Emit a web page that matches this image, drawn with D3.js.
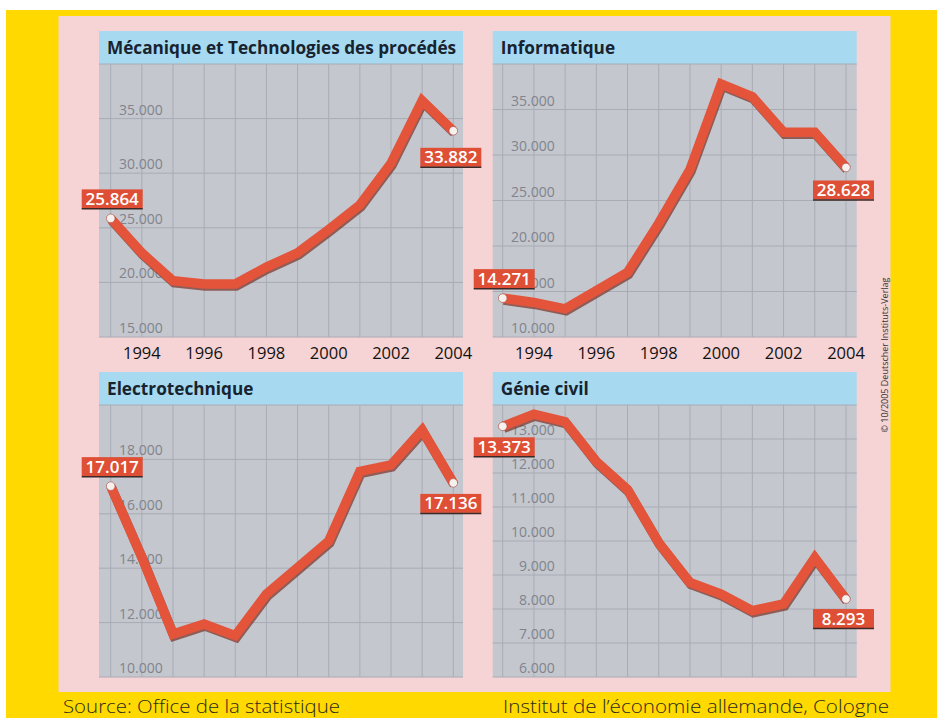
<!DOCTYPE html>
<html>
<head>
<meta charset="utf-8">
<script src="https://cdn.jsdelivr.net/npm/d3@7"></script>
<style>
  body { margin: 0; background: #fff; }
  svg { display: block; }
</style>
</head>
<body>
<div id="chart"></div>
<script>
// years shown in each panel
const years = [1993, 1994, 1995, 1996, 1997, 1998, 1999, 2000, 2001, 2002, 2003, 2004];
const yearLabels = [1994, 1996, 1998, 2000, 2002, 2004];

// series values (first and last are printed)
const mecaValues = [25864, 22700, 20150, 19850, 19850, 21400, 22700, 24850, 27100, 30900, 36650, 33882];
const infoValues = [14271, 13800, 13100, 15100, 17100, 22500, 28400, 37800, 36400, 32500, 32500, 28628];
const electroValues = [17017, 14400, 11580, 11950, 11520, 13050, 14020, 15000, 17560, 17800, 19080, 17136];
const genieValues = [13373, 13730, 13510, 12340, 11510, 9950, 8780, 8440, 7950, 8150, 9510, 8293];

// titles and y ticks
const titles = ["Mécanique et Technologies des procédés", "Informatique", "Electrotechnique", "Génie civil"];
const mecaTicks = [15000, 20000, 25000, 30000, 35000];
const infoTicks = [10000, 15000, 20000, 25000, 30000, 35000];
const electroTicks = [10000, 12000, 14000, 16000, 18000];
const genieTicks = [6000, 7000, 8000, 9000, 10000, 11000, 12000, 13000];

const sourceLeft = "Source: Office de la statistique";
const sourceRight = "Institut de l\u2019économie allemande, Cologne";
const copyright = "© 10/2005 Deutscher Instituts-Verlag";

const W = 937, H = 718;
const de = d3.formatLocale({decimal: ",", thousands: ".", grouping: [3], currency: ["", "€"]});
const fmt = de.format(",d");

const panels = [
  {title: titles[0], values: mecaValues, ticks: mecaTicks, domain: [15000, 40000], step: 5000,
   x0: 99, x1: 463, top: 31, plotTop: 64, bottom: 337, r0: 110.7, r1: 453.3, years: true,
   startPos: "above", endDy: 17},
  {title: titles[1], values: infoValues, ticks: infoTicks, domain: [10000, 40000], step: 5000,
   x0: 492.7, x1: 856.7, top: 31, plotTop: 64, bottom: 337, r0: 502.7, r1: 846, years: true,
   startPos: "above", endDy: 13},
  {title: titles[2], values: electroValues, ticks: electroTicks, domain: [10000, 20000], step: 2000,
   x0: 99, x1: 463, top: 372, plotTop: 405, bottom: 677, r0: 110.7, r1: 453.3, years: false,
   startPos: "above", endDy: 11},
  {title: titles[3], values: genieValues, ticks: genieTicks, domain: [6000, 14000], step: 1000,
   x0: 492.7, x1: 856.7, top: 372, plotTop: 405, bottom: 677, r0: 502.7, r1: 846, years: false,
   startPos: "below", endDy: 10}
];

const svg = d3.select("#chart").append("svg")
    .attr("width", W)
    .attr("height", H);

// yellow frame and pink paper
svg.append("rect").attr("x", 6).attr("y", 10).attr("width", W - 6).attr("height", H - 10).attr("fill", "#ffd900");
svg.append("rect").attr("x", 58.5).attr("y", 16).attr("width", 832).attr("height", 676).attr("fill", "#f6d3d4");

panels.forEach(p => {
  const g = svg.append("g");
  const x = d3.scaleLinear().domain([years[0], years[years.length - 1]]).range([p.r0, p.r1]);
  const y = d3.scaleLinear().domain(p.domain).range([p.bottom, p.plotTop]);

  // title bar
  g.append("rect")
      .attr("x", p.x0).attr("y", p.top)
      .attr("width", p.x1 - p.x0).attr("height", p.plotTop - p.top)
      .attr("fill", "#a7daf1");
  g.append("text")
      .attr("x", p.x0 + 8).attr("y", p.plotTop - 10)
      .attr("font-family", "'Open Sans', sans-serif")
      .attr("font-weight", 700)
      .attr("font-size", 17.2)
      .attr("fill", "#17232f")
      .text(p.title);

  // plot background
  g.append("rect")
      .attr("x", p.x0).attr("y", p.plotTop)
      .attr("width", p.x1 - p.x0).attr("height", p.bottom - p.plotTop)
      .attr("fill", "#c5c7ce");

  // grid
  const gridVals = d3.range(p.domain[0], p.domain[1] + 1, p.step);
  g.append("g").selectAll("line").data(gridVals).join("line")
      .attr("x1", p.x0).attr("x2", p.x1)
      .attr("y1", d => y(d)).attr("y2", d => y(d))
      .attr("stroke", "#a8acb5").attr("stroke-width", 1);
  g.append("g").selectAll("line").data(years).join("line")
      .attr("x1", d => x(d)).attr("x2", d => x(d))
      .attr("y1", p.plotTop).attr("y2", p.bottom)
      .attr("stroke", "#a8acb5").attr("stroke-width", 1);

  // y tick labels
  g.append("g").selectAll("text").data(p.ticks).join("text")
      .attr("x", p.r0 + 52).attr("y", d => y(d) - 4)
      .attr("text-anchor", "end")
      .attr("font-family", "'Open Sans', sans-serif")
      .attr("font-size", 14)
      .attr("fill", "#7f848d")
      .text(d => fmt(d));

  // x labels (top row only)
  if (p.years) {
    g.append("g").selectAll("text").data(yearLabels).join("text")
        .attr("x", d => x(d)).attr("y", p.bottom + 22)
        .attr("text-anchor", "middle")
        .attr("font-family", "'Open Sans', sans-serif")
        .attr("font-size", 16.5)
        .attr("fill", "#111")
        .text(d => d);
  }

  const pts = years.map((yr, i) => [yr, p.values[i]]);
  const line = d3.line().x(d => x(d[0])).y(d => y(d[1]));

  // shadow + line
  g.append("path")
      .datum(pts)
      .attr("d", line)
      .attr("transform", "translate(1,2)")
      .attr("fill", "none")
      .attr("stroke", "#7b3a30")
      .attr("stroke-opacity", 0.75)
      .attr("stroke-width", 9.5)
      .attr("stroke-linejoin", "miter");
  g.append("path")
      .datum(pts)
      .attr("d", line)
      .attr("fill", "none")
      .attr("stroke", "#e3543a")
      .attr("stroke-width", 9.5)
      .attr("stroke-linejoin", "miter");

  // end points + value boxes
  const ends = [pts[0], pts[pts.length - 1]];
  ends.forEach((d, i) => {
    const px = x(d[0]), py = y(d[1]);
    g.append("circle")
        .attr("cx", px).attr("cy", py).attr("r", 4.3)
        .attr("fill", "#f6f1ee")
        .attr("stroke", "#a8443a").attr("stroke-width", 0.6);

    const bw = 61, bh = 19;
    let bx, by;
    if (i === 0) {
      bx = px - 29;
      by = p.startPos === "above" ? py - 10 - bh : py + 11;
    } else {
      bx = px - 33;
      by = py + p.endDy;
    }
    g.append("rect")
        .attr("x", bx).attr("y", by)
        .attr("width", bw).attr("height", bh)
        .attr("fill", "#de4f36");
    g.append("line")
        .attr("x1", bx).attr("x2", bx + bw)
        .attr("y1", by + bh + 0.5).attr("y2", by + bh + 0.5)
        .attr("stroke", "#3b2a27").attr("stroke-width", 1.5);
    g.append("text")
        .attr("x", bx + bw / 2).attr("y", by + bh - 3.5)
        .attr("text-anchor", "middle")
        .attr("font-family", "'Open Sans', sans-serif")
        .attr("font-weight", 600)
        .attr("font-size", 17)
        .attr("fill", "#fff")
        .text(fmt(d[1]));
  });
});

// copyright, vertical
svg.append("text")
    .attr("transform", "translate(888,355) rotate(-90)")
    .attr("text-anchor", "middle")
    .attr("font-family", "'Open Sans', sans-serif")
    .attr("font-size", 9)
    .attr("fill", "#333")
    .text(copyright);

// footer sources
svg.append("text")
    .attr("x", 63).attr("y", 713)
    .attr("font-family", "'Open Sans', sans-serif")
    .attr("font-weight", 300)
    .attr("font-size", 19)
    .attr("textLength", 277)
    .attr("lengthAdjust", "spacingAndGlyphs")
    .attr("fill", "#2b2a1c")
    .text(sourceLeft);
svg.append("text")
    .attr("x", 503).attr("y", 713)
    .attr("font-family", "'Open Sans', sans-serif")
    .attr("font-weight", 300)
    .attr("font-size", 19)
    .attr("textLength", 386)
    .attr("lengthAdjust", "spacingAndGlyphs")
    .attr("fill", "#2b2a1c")
    .text(sourceRight);
</script>
</body>
</html>
